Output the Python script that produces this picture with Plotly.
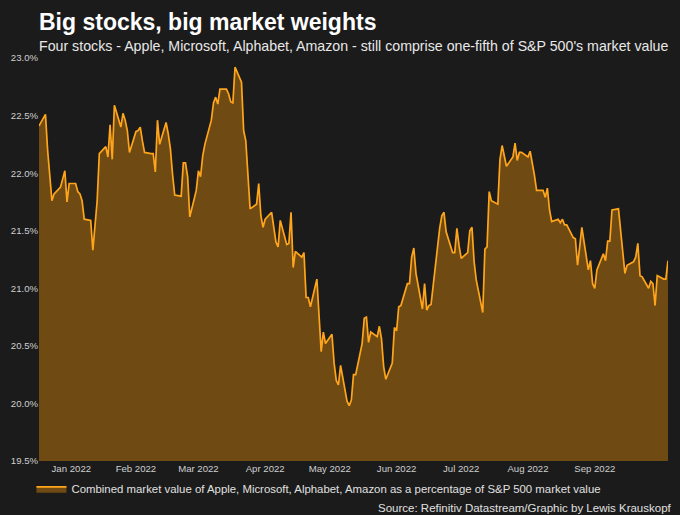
import pandas as pd
import plotly.graph_objects as go

start_date = "2021-12-31"

share_pct = [
    22.41, 22.51, 22.20, 21.97, 21.76, 21.82, 21.88, 21.95, 22.02, 21.75,
    21.91, 21.91, 21.84, 21.82, 21.76, 21.60, 21.59, 21.33, 21.53, 21.76,
    22.17, 22.23, 22.14, 22.42, 22.12, 22.59, 22.40, 22.52, 22.46, 22.37,
    22.18, 22.36, 22.37, 22.40, 22.28, 22.18, 22.17, 22.17, 22.01, 22.46, 22.25,
    22.44, 22.34, 22.21, 21.99, 21.81, 21.80, 22.09, 22.09, 21.97, 21.62,
    21.85, 22.02, 21.97, 22.15, 22.25, 22.46, 22.61, 22.66, 22.60, 22.73,
    22.73, 22.69, 22.62, 22.61, 22.92, 22.79, 22.37, 22.28, 22.02, 21.69,
    21.73, 21.91, 21.63, 21.53, 21.60, 21.66, 21.53, 21.40, 21.36, 21.59, 21.38,
    21.39, 21.66, 21.18, 21.32, 21.27, 21.31, 20.92, 20.92, 20.84, 21.08,
    20.78, 20.45, 20.62, 20.52, 20.60, 20.35, 20.20, 20.16, 20.33, 20.02,
    19.98, 20.03, 20.25, 20.25, 20.52, 20.74, 20.75, 20.53, 20.62, 20.58,
    20.67, 20.56, 20.32, 20.21, 20.35, 20.66, 20.63, 20.84, 20.85, 21.04,
    21.04, 21.27,
    21.35, 21.13, 20.82, 21.04, 20.81, 20.85, 20.86, 21.36, 21.52, 21.63,
    21.66, 21.49, 21.31, 21.31, 21.52, 21.37, 21.26, 21.31, 21.50, 21.53,
    21.23, 21.07, 20.79, 21.34, 21.36, 21.84, 21.76, 21.73, 22.12, 22.24,
    22.15, 22.06, 22.14, 22.26, 22.11, 22.18, 22.18, 22.14, 22.19, 22.10,
    21.98, 21.85,
    21.85, 21.79, 21.87, 21.68, 21.58, 21.60, 21.57, 21.60, 21.55, 21.55,
    21.44, 21.43, 21.20, 21.36, 21.53, 21.16, 21.24, 21.04, 21.00, 21.16,
    21.30, 21.24, 21.41, 21.41, 21.68, 21.69, 21.49, 21.29, 21.13, 21.20,
    21.23, 21.27, 21.39, 21.11, 21.10, 21.00, 21.06, 21.04, 20.85, 21.11,
    21.08, 21.08, 21.24,
]

dates = pd.bdate_range(start_date, periods=len(share_pct))

tick_dates = ["2022-01-15", "2022-02-14", "2022-03-15", "2022-04-15", "2022-05-15",
              "2022-06-15", "2022-07-15", "2022-08-15", "2022-09-15"]
tick_labels = ["Jan 2022", "Feb 2022", "Mar 2022", "Apr 2022", "May 2022",
               "Jun 2022", "Jul 2022", "Aug 2022", "Sep 2022"]

y_ticks = [19.5, 20.0, 20.5, 21.0, 21.5, 22.0, 22.5, 23.0]
y_tick_labels = ["19.5%", "20.0%", "20.5%", "21.0%", "21.5%", "22.0%", "22.5%", "23.0%"]

FONT = "Liberation Sans, Arial, sans-serif"
BG = "#1b1b1b"

fig = go.Figure()
fig.add_trace(go.Scatter(
    x=dates, y=share_pct, mode="lines", fill="tozeroy",
    line=dict(color="#ffa51c", width=1.7),
    fillcolor="#6f4a12",
    name="Combined market value of Apple, Microsoft, Alphabet, Amazon as a percentage of S&P 500 market value",
))

fig.update_layout(
    width=680, height=515,
    paper_bgcolor=BG, plot_bgcolor=BG,
    margin=dict(l=39, r=12, t=58, b=54, autoexpand=False),
    font=dict(family=FONT, color="#d8d8d8"),
    showlegend=True,
    legend=dict(orientation="h", x=-0.012, y=-0.069, xanchor="left", yanchor="middle",
                font=dict(size=11.4, color="#e0e0e0"), bgcolor="rgba(0,0,0,0)"),
    xaxis=dict(type="date", range=[dates[0], dates[-1]], tickvals=tick_dates, ticktext=tick_labels,
               showgrid=False, zeroline=False, showline=False, ticks="", automargin=False,
               tickfont=dict(size=9.6, color="#cfcfcf")),
    yaxis=dict(range=[19.5, 23.0], tickvals=y_ticks, ticktext=y_tick_labels,
               showgrid=False, zeroline=False, showline=False, ticks="", automargin=False,
               tickfont=dict(size=9.6, color="#cfcfcf")),
    annotations=[
        dict(text="<b>Big stocks, big market weights</b>", xref="paper", yref="paper",
             x=-0.003, y=1.090, xanchor="left", yanchor="middle", showarrow=False,
             font=dict(size=23, color="#ffffff", family=FONT)),
        dict(text="Four stocks - Apple, Microsoft, Alphabet, Amazon - still comprise one-fifth of S&P 500's market value",
             xref="paper", yref="paper", x=-0.003, y=1.030, xanchor="left", yanchor="middle",
             showarrow=False, font=dict(size=14.2, color="#e8e8e8", family=FONT)),
        dict(text="Source: Refinitiv Datastream/Graphic by Lewis Krauskopf", xref="paper", yref="paper",
             x=1.0095, y=-0.1166, xanchor="right", yanchor="middle", showarrow=False,
             font=dict(size=11.5, color="#e0e0e0", family=FONT)),
    ],
)

fig.write_html("out.html", config={"displayModeBar": False},
               post_script="document.body.style.margin='0';document.body.style.background='#1b1b1b';")
